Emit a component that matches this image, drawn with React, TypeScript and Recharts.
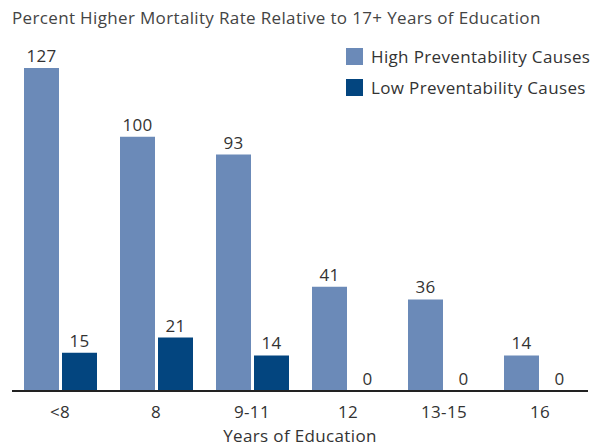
import { BarChart, Bar, XAxis, YAxis, LabelList } from "recharts";

const categories = ["<8", "8", "9-11", "12", "13-15", "16"];
const highValues = [127, 100, 93, 41, 36, 14];
const lowValues = [15, 21, 14, 0, 0, 0];

const HIGH = "#6b8ab8";
const LOW = "#03457f";
const FONT = "'Open Sans', Lato, sans-serif";
const SPACING = 0.35;

const data = categories.map((c, i) => ({
    edu: c,
    high: highValues[i],
    low: lowValues[i],
}));

const legendItems = [
    { label: "High Preventability Causes", color: HIGH },
    { label: "Low Preventability Causes", color: LOW },
];

// value label drawn above each bar, zero bars included
const valueLabel = (props: any) => {
    const { x, y, width, value } = props;
    return (
        <text x={x + width / 2} y={y - 6} textAnchor="middle" fill="#333" fontSize={17} fontFamily={FONT} letterSpacing={SPACING}>
            {value}
        </text>
    );
};

export default function App() {
    return (
        <div style={{ position: "absolute", top: 0, left: 0, width: 592, height: 447, background: "#fff", fontFamily: FONT, letterSpacing: SPACING }}>
            <div style={{ position: "absolute", left: 12, top: 6, fontSize: 17, color: "#444", whiteSpace: "nowrap" }}>
                Percent Higher Mortality Rate Relative to 17+ Years of Education
            </div>
            <div style={{ position: "absolute", left: 346, top: 41, fontSize: 17, color: "#333", whiteSpace: "nowrap" }}>
                {legendItems.map((it) => (
                    <div key={it.label} style={{ display: "flex", alignItems: "center", height: 31 }}>
                        <span style={{ width: 17, height: 17, background: it.color, marginRight: 8 }} />
                        {it.label}
                    </div>
                ))}
            </div>
            <BarChart
                width={592}
                height={447}
                data={data}
                margin={{ top: 35, right: 4, left: 12, bottom: 26 }}
                barGap={3}
                barCategoryGap={11.5}
            >
                <YAxis hide domain={[0, 140]} width={0} />
                <XAxis
                    dataKey="edu"
                    axisLine={{ stroke: "#222", strokeWidth: 2 }}
                    tickLine={false}
                    tick={{ fill: "#333", fontSize: 17, fontFamily: FONT, letterSpacing: SPACING }}
                    dy={7}
                    label={{ value: "Years of Education", position: "insideBottom", offset: -21, fill: "#333", fontSize: 17, fontFamily: FONT }}
                />
                <Bar dataKey="high" fill={HIGH} barSize={35} isAnimationActive={false}>
                    <LabelList dataKey="high" content={valueLabel} />
                </Bar>
                <Bar dataKey="low" fill={LOW} barSize={35} minPointSize={0.01} isAnimationActive={false}>
                    <LabelList dataKey="low" content={valueLabel} />
                </Bar>
            </BarChart>
        </div>
    );
}
